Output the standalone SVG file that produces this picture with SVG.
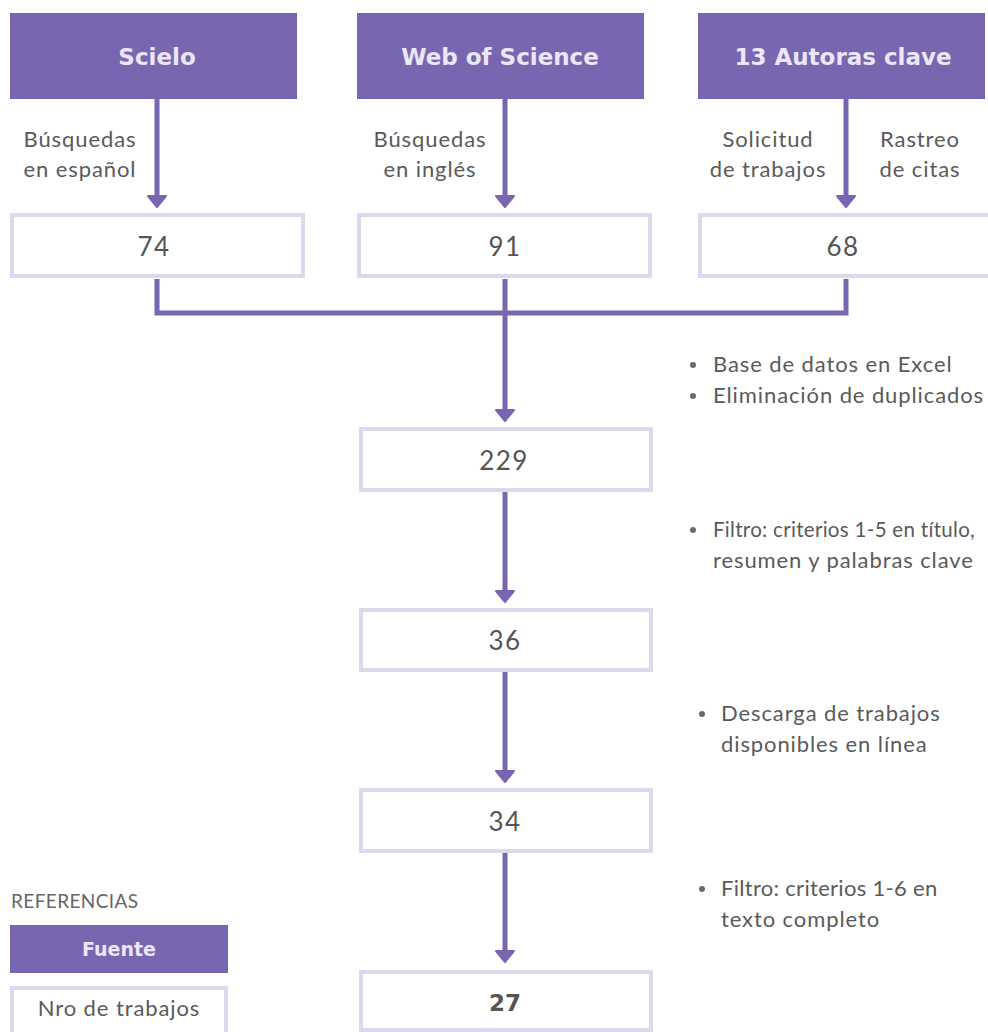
<svg xmlns="http://www.w3.org/2000/svg" width="988" height="1032" viewBox="0 0 988 1032">
<style>
.src{fill:#7866b1;}
.num{fill:#ffffff;stroke:#dcd8ee;stroke-width:4;}
.t{font-family:Lato,"Liberation Sans",sans-serif;fill:#5a5a5a;font-size:22px;letter-spacing:0.9px;}
.c{text-anchor:middle;}
.ttl{font-family:"DejaVu Sans","Liberation Sans",sans-serif;font-weight:bold;fill:#ebe7f8;font-size:23px;text-anchor:middle;}
.n{font-family:Lato,"Liberation Sans",sans-serif;fill:#555555;font-size:26px;letter-spacing:1.4px;text-anchor:middle;}
.edge{stroke:#7866b1;stroke-width:5;fill:none;}
.dot{fill:#6a6a6a;}
</style>
<defs>
<marker id="ah" viewBox="0 0 12 20" refX="4" refY="10" markerWidth="12" markerHeight="20" markerUnits="userSpaceOnUse" orient="auto" overflow="visible">
<path d="M0 1 L11 10 L0 19 Z" fill="#7866b1" stroke="#7866b1" stroke-width="2" stroke-linejoin="round"/>
</marker>
</defs>
<rect width="988" height="1032" fill="#ffffff"/>

<g id="connectors">
<line class="edge" x1="157" y1="99" x2="157" y2="200" marker-end="url(#ah)"/>
<line class="edge" x1="505" y1="99" x2="505" y2="200" marker-end="url(#ah)"/>
<line class="edge" x1="846" y1="99" x2="846" y2="200" marker-end="url(#ah)"/>
<polyline class="edge" points="157,279 157,313 846,313 846,279"/>
<line class="edge" x1="505" y1="279" x2="505" y2="414" marker-end="url(#ah)"/>
<line class="edge" x1="505" y1="492" x2="505" y2="595" marker-end="url(#ah)"/>
<line class="edge" x1="505" y1="672" x2="505" y2="775" marker-end="url(#ah)"/>
<line class="edge" x1="505" y1="853" x2="505" y2="955" marker-end="url(#ah)"/>
</g>

<g id="scielo">
<rect class="src" x="10" y="13" width="287" height="86"/>
<text class="ttl" x="157" y="65">Scielo</text>
</g>
<g id="wos">
<rect class="src" x="357" y="13" width="287" height="86"/>
<text class="ttl" x="500" y="65">Web of Science</text>
</g>
<g id="autoras">
<rect class="src" x="698" y="13" width="287" height="86"/>
<text class="ttl" x="843" y="65">13 Autoras clave</text>
</g>

<g id="lbl-scielo">
<text class="t c" x="80" y="147">Búsquedas</text>
<text class="t c" x="80" y="177">en español</text>
</g>
<g id="lbl-wos">
<text class="t c" x="430" y="147">Búsquedas</text>
<text class="t c" x="430" y="177">en inglés</text>
</g>
<g id="lbl-autoras">
<text class="t c" x="768" y="147">Solicitud</text>
<text class="t c" x="768" y="177">de trabajos</text>
<text class="t c" x="920" y="147">Rastreo</text>
<text class="t c" x="920" y="177">de citas</text>
</g>

<g id="n74">
<rect class="num" x="12" y="215" width="291" height="61"/>
<text class="n" x="154" y="256">74</text>
</g>
<g id="n91">
<rect class="num" x="359" y="215" width="291" height="61"/>
<text class="n" x="505" y="256">91</text>
</g>
<g id="n68">
<rect class="num" x="700" y="215" width="291" height="61"/>
<text class="n" x="843" y="256">68</text>
</g>

<g id="n229">
<rect class="num" x="361" y="429" width="290" height="61"/>
<text class="n" x="504" y="470">229</text>
</g>
<g id="n36">
<rect class="num" x="361" y="610" width="290" height="60"/>
<text class="n" x="505" y="650">36</text>
</g>
<g id="n34">
<rect class="num" x="361" y="790" width="290" height="61"/>
<text class="n" x="505" y="831">34</text>
</g>
<g id="n27">
<rect class="num" x="361" y="972" width="290" height="58"/>
<text class="ttl" x="505" y="1011" style="fill:#555555">27</text>
</g>

<g id="note1">
<circle class="dot" cx="693" cy="365" r="3"/>
<text class="t" x="713" y="372">Base de datos en Excel</text>
<circle class="dot" cx="693" cy="396" r="3"/>
<text class="t" x="713" y="403">Eliminación de duplicados</text>
</g>
<g id="note2">
<circle class="dot" cx="693" cy="530" r="3"/>
<text class="t" x="713" y="537" style="font-size:20.5px;letter-spacing:0.3px">Filtro: criterios 1-5 en título,</text>
<text class="t" x="713" y="568">resumen y palabras clave</text>
</g>
<g id="note3">
<circle class="dot" cx="702" cy="714" r="3"/>
<text class="t" x="721" y="721">Descarga de trabajos</text>
<text class="t" x="721" y="752">disponibles en línea</text>
</g>
<g id="note4">
<circle class="dot" cx="702" cy="889" r="3"/>
<text class="t" x="721" y="896" style="letter-spacing:0.3px">Filtro: criterios 1-6 en</text>
<text class="t" x="721" y="927">texto completo</text>
</g>

<g id="legend">
<text class="t" x="11" y="908" style="font-size:19px;letter-spacing:0.4px;fill:#666666">REFERENCIAS</text>
<rect class="src" x="10" y="925" width="218" height="48"/>
<text class="ttl" x="119" y="956" style="font-size:19px">Fuente</text>
<rect class="num" x="12" y="988" width="214" height="46"/>
<text class="t c" x="119" y="1016">Nro de trabajos</text>
</g>
</svg>
